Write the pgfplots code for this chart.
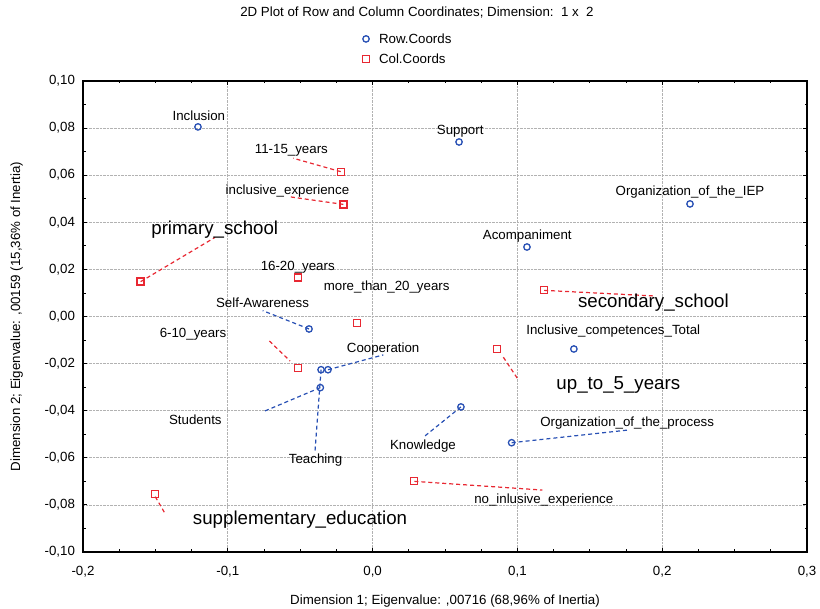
\documentclass[border=0pt]{standalone}
\usepackage{pgfplots}
\pgfplotsset{compat=1.18}
\usepackage{fontspec}
\setmainfont{Liberation Sans}
\definecolor{rowblue}{RGB}{40,80,180}
\definecolor{colred}{RGB}{232,40,50}
\newcommand{\lab}{\fontsize{13.3bp}{16bp}\selectfont}
\newcommand{\biglab}{\fontsize{18.7bp}{22bp}\selectfont}
\begin{document}
\begin{tikzpicture}[x=1bp,y=1bp]
\path[use as bounding box] (0,0) rectangle (820,609);
\begin{axis}[
  at={(83bp,57bp)}, anchor=south west,
  width=724bp, height=471bp, scale only axis,
  xmin=-0.2, xmax=0.3, ymin=-0.1, ymax=0.1,
  xtick={-0.2,-0.1,0,0.1,0.2,0.3},
  xticklabels={{-0,2},{-0,1},{0,0},{0,1},{0,2},{0,3}},
  ytick={-0.1,-0.08,-0.06,-0.04,-0.02,0,0.02,0.04,0.06,0.08,0.1},
  yticklabels={{-0,10},{-0,08},{-0,06},{-0,04},{-0,02},{0,00},{0,02},{0,04},{0,06},{0,08},{0,10}},
  minor x tick num=3, minor y tick num=1,
  tick align=inside, xtick pos=both, ytick pos=both,
  xticklabel pos=lower, yticklabel pos=left,
  major tick length=4bp, minor tick length=2.5bp,
  grid=major, major grid style={densely dotted, black!30, line width=0.7bp},
  axis line style={line width=1.2bp},
  tick style={black, line width=0.8bp},
  ticklabel style={font=\lab},
  xticklabel style={yshift=-11bp},
  yticklabel style={xshift=-4.5bp},
  xlabel={Dimension 1; Eigenvalue: ,00716 (68,96\% of Inertia)},
  ylabel={Dimension 2; Eigenvalue: ,00159 (15,36\% of Inertia)},
  xlabel style={font=\lab, at={(axis description cs:0.5,-0.1125)}, anchor=base},
  ylabel style={font=\lab, at={(axis description cs:-0.087,0.5)}, anchor=base},
  title={2D Plot of Row and Column Coordinates; Dimension:\ \ 1 x\ \ 2},
  title style={font=\lab, at={(axis description cs:0.4613,1.1232)}, anchor=base},
  legend style={at={(axis description cs:0.381,1.110)}, anchor=north west,
    draw=none, fill=none, font=\lab, row sep=5bp,
    nodes={inner sep=2bp}},
  legend cell align=left,
  legend image code/.code={\path[draw=none,fill=none] (-4bp,-1bp) rectangle (11bp,1bp); \draw[#1] plot coordinates {(0bp,0bp)};},
  clip=false,
]
% leader lines (row points)
\begin{scope}[rowblue, line width=1.2bp, dash pattern=on 4bp off 3bp]
\draw (axis cs:-0.0439,-0.0053) -- (axis cs:-0.0759,0.0025);
\draw (axis cs:-0.0308,-0.0226) -- (axis cs:0.0074,-0.0163);
\draw (axis cs:-0.0361,-0.0302) -- (axis cs:-0.0743,-0.0401);
\draw (axis cs:-0.0356,-0.0226) -- (axis cs:-0.0398,-0.0574);
\draw (axis cs:0.0610,-0.0384) -- (axis cs:0.0350,-0.0513);
\draw (axis cs:0.0960,-0.0536) -- (axis cs:0.1766,-0.0482);
\end{scope}
% leader lines (column points)
\begin{scope}[colred, line width=1.2bp, dash pattern=on 4bp off 3bp]
\draw (axis cs:-0.0220,0.0615) -- (axis cs:-0.0548,0.0672);
\draw (axis cs:-0.0202,0.0476) -- (axis cs:-0.0582,0.0509);
\draw (axis cs:-0.1602,0.0148) -- (axis cs:-0.1088,0.0336);
\draw (axis cs:-0.0713,-0.0104) -- (axis cs:-0.0570,-0.0189);
\draw (axis cs:-0.1501,-0.0765) -- (axis cs:-0.1434,-0.0836);
\draw (axis cs:0.1184,0.0111) -- (axis cs:0.1950,0.0087);
\draw (axis cs:0.0903,-0.0173) -- (axis cs:0.0999,-0.0262);
\draw (axis cs:0.0288,-0.0700) -- (axis cs:0.1172,-0.0737);
\end{scope}
\addplot[only marks, mark=o, mark size=3.2bp, rowblue, mark options={line width=1.3bp}] coordinates {
 (-0.1206,0.0805) (0.0597,0.0741) (0.2192,0.0478) (0.1066,0.0295)
 (-0.0439,-0.0053) (0.1390,-0.0138) (-0.0308,-0.0226) (-0.0361,-0.0302)
 (-0.0356,-0.0226) (0.0610,-0.0384) (0.0960,-0.0536)
};
\addlegendentry{Row.Coords}
\addplot[only marks, mark=square, mark size=3.5bp, colred, mark options={line width=1.3bp}] coordinates {
 (-0.0220,0.0615) (-0.0202,0.0476) (-0.1602,0.0148) (-0.0515,0.0166)
 (-0.0110,-0.0028) (-0.0515,-0.0220) (-0.1501,-0.0755) (0.1184,0.0111)
 (0.0861,-0.0137) (0.0288,-0.0700)
};
\addlegendentry{Col.Coords}
% row labels
\node[anchor=base, font=\lab] at (axis cs:-0.1200,0.0834) {Inclusion};
\node[anchor=base, font=\lab] at (axis cs:0.0605,0.0773) {Support};
\node[anchor=base, font=\lab] at (axis cs:0.2192,0.0512) {Organization\_of\_the\_IEP};
\node[anchor=base, font=\lab] at (axis cs:0.1068,0.0327) {Acompaniment};
\node[anchor=base, font=\lab] at (axis cs:-0.0760,0.0037) {Self-Awareness};
\node[anchor=base, font=\lab] at (axis cs:0.1662,-0.0076) {Inclusive\_competences\_Total};
\node[anchor=base, font=\lab] at (axis cs:0.0073,-0.0152) {Cooperation};
\node[anchor=base, font=\lab] at (axis cs:-0.1224,-0.0458) {Students};
\node[anchor=base, font=\lab] at (axis cs:-0.0394,-0.0626) {Teaching};
\node[anchor=base, font=\lab] at (axis cs:0.0348,-0.0565) {Knowledge};
\node[anchor=base, font=\lab] at (axis cs:0.1758,-0.0465) {Organization\_of\_the\_process};
% column labels
\node[anchor=base, font=\lab] at (axis cs:-0.0561,0.0691) {11-15\_years};
\node[anchor=base, font=\lab] at (axis cs:-0.0588,0.0520) {inclusive\_experience};
\node[anchor=base, font=\biglab] at (axis cs:-0.1090,0.0348) {primary\_school};
\node[anchor=base, font=\lab] at (axis cs:-0.0517,0.0197) {16-20\_years};
\node[anchor=base, font=\lab] at (axis cs:0.0097,0.0110) {more\_than\_20\_years};
\node[anchor=base, font=\lab] at (axis cs:-0.1240,-0.0090) {6-10\_years};
\node[anchor=base, font=\biglab] at (axis cs:0.1939,0.0039) {secondary\_school};
\node[anchor=base, font=\biglab] at (axis cs:0.1697,-0.0310) {up\_to\_5\_years};
\node[anchor=base, font=\biglab] at (axis cs:-0.0501,-0.0885) {supplementary\_education};
\node[anchor=base, font=\lab] at (axis cs:0.1182,-0.0792) {no\_inlusive\_experience};
\end{axis}
\end{tikzpicture}
\end{document}
